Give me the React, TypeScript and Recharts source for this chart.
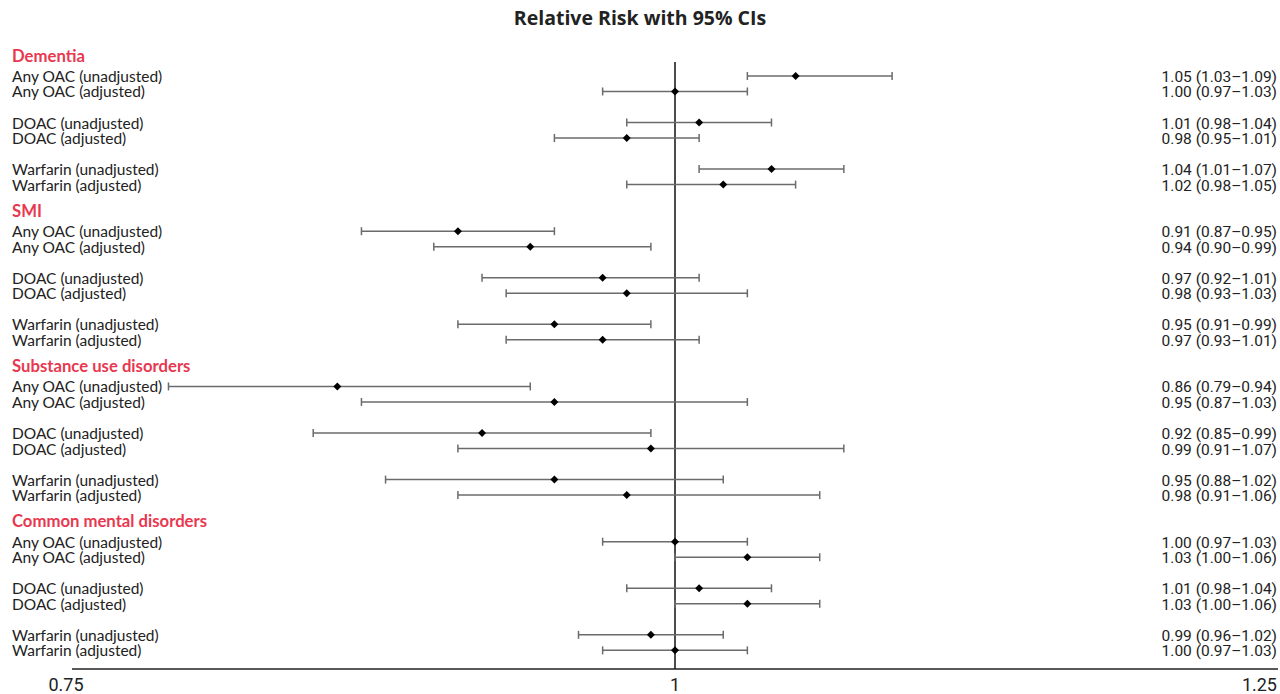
import React from "react";
import {
  ScatterChart,
  Scatter,
  XAxis,
  YAxis,
  ErrorBar,
  ReferenceLine,
} from "recharts";

const groups = [
  "Dementia",
  "SMI",
  "Substance use disorders",
  "Common mental disorders",
];

const comparisons = [
  "Any OAC (unadjusted)",
  "Any OAC (adjusted)",
  "DOAC (unadjusted)",
  "DOAC (adjusted)",
  "Warfarin (unadjusted)",
  "Warfarin (adjusted)",
];

// 6 values per group, in the order of `comparisons`
const relativeRisk = [
  1.05, 1.0, 1.01, 0.98, 1.04, 1.02,
  0.91, 0.94, 0.97, 0.98, 0.95, 0.97,
  0.86, 0.95, 0.92, 0.99, 0.95, 0.98,
  1.0, 1.03, 1.01, 1.03, 0.99, 1.0,
];
const ciLower = [
  1.03, 0.97, 0.98, 0.95, 1.01, 0.98,
  0.87, 0.9, 0.92, 0.93, 0.91, 0.93,
  0.79, 0.87, 0.85, 0.91, 0.88, 0.91,
  0.97, 1.0, 0.98, 1.0, 0.96, 0.97,
];
const ciUpper = [
  1.09, 1.03, 1.04, 1.01, 1.07, 1.05,
  0.95, 0.99, 1.01, 1.03, 0.99, 1.01,
  0.94, 1.03, 0.99, 1.07, 1.02, 1.06,
  1.03, 1.06, 1.04, 1.06, 1.02, 1.03,
];

const xTicks = [0.75, 1, 1.25];

const LEFT_FONT = "Lato, 'Open Sans', sans-serif";
const RIGHT_FONT = "Roboto, 'Liberation Sans', sans-serif";
const TITLE_FONT = "'Open Sans', Lato, sans-serif";
const RED = "#e8384f";

// row layout: pairs of rows, a blank slot between pairs, header above each group
const rowPos = (gi: number, k: number) =>
  gi * 10 + Math.floor(k / 2) * 3 + (k % 2) + 1;
const headerPos = (gi: number) => gi * 10 - 0.38;

const fmt = (v: number) => v.toFixed(2);

const points: { x: number; y: number; err: number[] }[] = [];
const yTicks: number[] = [];
const tickInfo: Record<string, { header: boolean; left: string; right?: string }> = {};

groups.forEach((g, gi) => {
  const hy = headerPos(gi);
  yTicks.push(hy);
  tickInfo[hy.toFixed(2)] = { header: true, left: g };
  comparisons.forEach((c, k) => {
    const i = gi * 6 + k;
    const y = rowPos(gi, k);
    const rr = relativeRisk[i];
    points.push({ x: rr, y, err: [rr - ciLower[i], ciUpper[i] - rr] });
    yTicks.push(y);
    tickInfo[y.toFixed(2)] = {
      header: false,
      left: c,
      right: `${fmt(rr)} (${fmt(ciLower[i])}–${fmt(ciUpper[i])})`,
    };
  });
});

const RowTick = (props: any) => {
  const { y, payload } = props;
  const info = tickInfo[Number(payload.value).toFixed(2)];
  if (!info) return null;
  if (info.header) {
    return (
      <text
        x={12}
        y={y + 7}
        fontFamily={LEFT_FONT}
        fontWeight={700}
        fontSize={16.7}
        fill={RED}
      >
        {info.left}
      </text>
    );
  }
  return (
    <g>
      <text x={12} y={y + 6} fontFamily={LEFT_FONT} fontSize={15.5} fill="#222">
        {info.left}
      </text>
      <text
        x={1277}
        y={y + 6}
        textAnchor="end"
        fontFamily={RIGHT_FONT}
        fontSize={15.5}
        fill="#222"
      >
        {info.right}
      </text>
    </g>
  );
};

const ValueTick = (props: any) => {
  const { x, payload, index } = props;
  const v = payload.value;
  let anchor: "start" | "middle" | "end" = "middle";
  let tx = x;
  if (index === 0) tx = x - 6;
  if (index === xTicks.length - 1) {
    anchor = "end";
    tx = x - 1;
  }
  return (
    <text
      x={tx}
      y={691}
      textAnchor={anchor}
      fontFamily={RIGHT_FONT}
      fontSize={18}
      fill="#222"
    >
      {v}
    </text>
  );
};

const Diamond = (props: any) => {
  const { cx, cy } = props;
  if (cx == null || cy == null) return null;
  const r = 4;
  return (
    <polygon
      points={`${cx},${cy - r} ${cx + r},${cy} ${cx},${cy + r} ${cx - r},${cy}`}
      fill="#000"
    />
  );
};

export default function App() {
  return (
    <div style={{ position: "absolute", left: 0, top: 0, width: 1280, height: 694 }}>
      <div
        style={{
          position: "absolute",
          left: 0,
          top: 5,
          width: 1280,
          textAlign: "center",
          fontFamily: TITLE_FONT,
          fontWeight: 700,
          fontSize: 19.5,
          color: "#222",
          lineHeight: "26px",
        }}
      >
        Relative Risk with 95% CIs
      </div>
      <ScatterChart
        width={1280}
        height={694}
        margin={{ top: 48, right: 2, bottom: 0, left: 0 }}
      >
        <XAxis
          type="number"
          dataKey="x"
          domain={[0.75, 1.25]}
          ticks={xTicks}
          interval={0}
          allowDataOverflow
          tickLine={false}
          axisLine={{ stroke: "#222", strokeWidth: 1.5 }}
          height={25}
          tick={<ValueTick />}
        />
        <YAxis
          type="number"
          dataKey="y"
          domain={[-0.8, 39.2]}
          reversed
          ticks={yTicks}
          interval={0}
          allowDataOverflow
          axisLine={false}
          tickLine={false}
          width={72}
          tick={<RowTick />}
        />
        <ReferenceLine
          segment={[
            { x: 1, y: 0.1 },
            { x: 1, y: 39.2 },
          ]}
          stroke="#111"
          strokeWidth={1.5}
        />
        <Scatter data={points} shape={<Diamond />} isAnimationActive={false}>
          <ErrorBar
            dataKey="err"
            direction="x"
            width={4}
            stroke="#6b6b6b"
            strokeWidth={1.5}
            isAnimationActive={false}
          />
        </Scatter>
      </ScatterChart>
    </div>
  );
}
